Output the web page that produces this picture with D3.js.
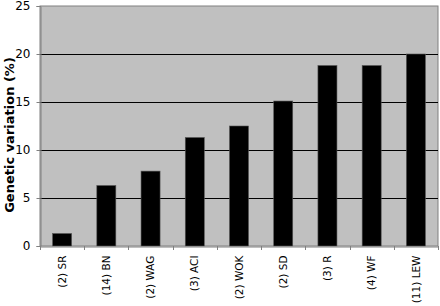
<!DOCTYPE html>
<html><head><meta charset="utf-8">
<script src="https://cdn.jsdelivr.net/npm/d3@7"></script>
<style>body{margin:0;background:#fff}svg{display:block}</style>
</head><body>
<script>
const categories = ["(2) SR","(14) BN","(2) WAG","(3) ACI","(2) WOK","(2) SD","(3) R","(4) WF","(11) LEW"];
const values = [1.3, 6.3, 7.8, 11.3, 12.5, 15.1, 18.8, 18.8, 20.0];
const yTicks = [0,5,10,15,20,25];
const yTitle = "Genetic variation (%)";

const W=440,H=306, m={l:40,r:2,t:6,b:60};
const svg=d3.select("body").append("svg").attr("width",W).attr("height",H);
const x=d3.scaleBand().domain(categories).range([m.l,W-m.r]).paddingInner(0.57).paddingOuter(0.285);
const xb=d3.scaleBand().domain(categories).range([m.l,W-m.r]);
const y=d3.scaleLinear().domain([0,25]).range([H-m.b,m.t]);
const font="'DejaVu Sans', Verdana, sans-serif";

svg.append("rect").attr("x",m.l).attr("y",m.t).attr("width",W-m.r-m.l).attr("height",y(0)-m.t)
  .attr("fill","#c0c0c0").attr("stroke","#808080").attr("stroke-width",1);

svg.append("g").selectAll("line").data(yTicks.filter(d=>d>0&&d<25)).join("line")
  .attr("x1",m.l).attr("x2",W-m.r).attr("y1",d=>Math.round(y(d))+0.5).attr("y2",d=>Math.round(y(d))+0.5)
  .attr("stroke","#000").attr("stroke-width",1);

svg.append("g").selectAll("rect").data(values).join("rect")
  .attr("x",(d,i)=>x(categories[i])).attr("width",x.bandwidth())
  .attr("y",d=>y(d)).attr("height",d=>y(0)-y(d))
  .attr("fill","#000").attr("stroke","#555").attr("stroke-width",0.6);

const ya=svg.append("g").attr("transform",`translate(${m.l+0.5},0)`)
  .call(d3.axisLeft(y).tickValues(yTicks).tickSize(4).tickPadding(6));
ya.select(".domain").attr("stroke","#808080");
ya.selectAll(".tick line").attr("stroke","#808080");
ya.selectAll("text").attr("font-family",font).attr("font-size",12).attr("fill","#000");

const xa=svg.append("g").attr("transform",`translate(0,${Math.round(y(0))+0.5})`)
  .call(d3.axisBottom(xb).tickSize(0).tickFormat(""));
xa.select(".domain").attr("stroke","#808080");
svg.append("g").selectAll("line").data(d3.range(categories.length+1)).join("line")
  .attr("x1",i=>Math.round(m.l+i*xb.step())+0.5).attr("x2",i=>Math.round(m.l+i*xb.step())+0.5)
  .attr("y1",y(0)).attr("y2",y(0)+4).attr("stroke","#808080");

svg.append("g").selectAll("text").data(categories).join("text")
  .attr("transform",d=>`translate(${x(d)+x.bandwidth()/2},${y(0)+9.5}) rotate(-90)`)
  .attr("text-anchor","end").attr("dy","0.35em")
  .attr("font-family",font).attr("font-size",10.5).text(d=>d);

svg.append("text").attr("transform",`translate(13.5,135) rotate(-90)`)
  .attr("text-anchor","middle").attr("font-family",font).attr("font-weight","bold")
  .attr("font-size",13).text(yTitle);
</script>
</body></html>
